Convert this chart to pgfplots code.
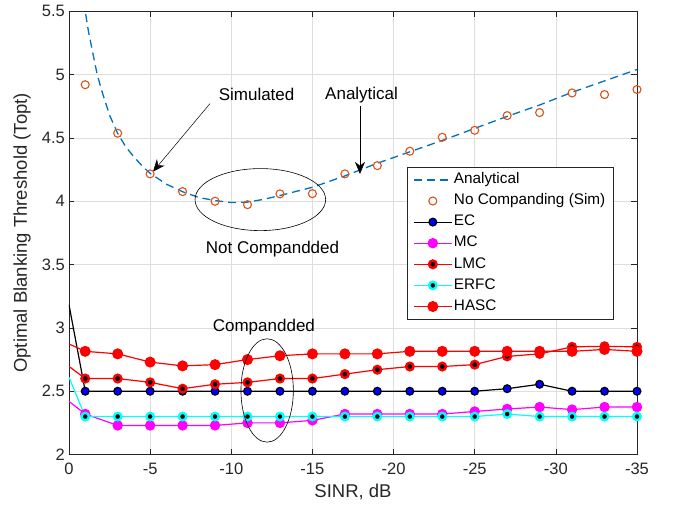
\documentclass[border=0pt]{standalone}
\usepackage{fontspec}
\setmainfont{Liberation Sans}
\usepackage{pgfplots}
\pgfplotsset{compat=1.18}
\usetikzlibrary{arrows.meta}
\definecolor{mblue}{rgb}{0,0.447,0.741}
\definecolor{morange}{rgb}{0.85,0.325,0.098}
\definecolor{axgray}{rgb}{0.15,0.15,0.15}
\definecolor{mcyan}{rgb}{0,1,1}
\definecolor{mmag}{rgb}{1,0,1}
\definecolor{mred}{rgb}{1,0,0}
\definecolor{mblue2}{rgb}{0,0,1}
\begin{document}
\fontsize{16.5}{19}\selectfont
\begin{tikzpicture}
\begin{axis}[
  scale only axis, width=568pt, height=443.3pt,
  x dir=reverse, xmin=-35, xmax=0, ymin=2, ymax=5.5,
  xtick={0,-5,-10,-15,-20,-25,-30,-35},
  ytick={2,2.5,3,3.5,4,4.5,5,5.5},
  /pgf/number format/assume math mode=true,
  grid=major, major grid style={color=black!13, line width=0.5pt},
  axis line style={color=axgray, line width=0.6pt},
  tick style={color=axgray, line width=0.6pt},
  tick align=inside, major tick length=5.5pt,
  xtick pos=both, ytick pos=both,
  xticklabel pos=lower, yticklabel pos=left,
  ticklabel style={color=axgray, font=\fontsize{16.5}{19}\selectfont},
  yticklabel style={xshift=1.5pt},
  xticklabel style={yshift=-3pt},
  xlabel={SINR, dB}, ylabel={Optimal Blanking Threshold (Topt)},
  label style={color=axgray, font=\fontsize{18.5}{21}\selectfont},
  xlabel style={yshift=2pt},
  legend cell align=left,
  legend style={at={(0.958,0.649)}, anchor=north east, draw=axgray, line width=0.6pt,
    fill=white, row sep=3.6pt, inner xsep=6pt, inner ysep=4pt, font=\fontsize{15.3}{18}\selectfont,
    nodes={inner sep=1.5pt, text height=11pt, text depth=3.5pt}},
  legend image code/.code={\draw[mark repeat=2,mark phase=2,#1] plot coordinates {(0pt,0pt) (19pt,0pt) (38pt,0pt)};},
]
\coordinate (O) at (axis cs:0,2);
% Analytical
\addplot[mblue, line width=1.3pt, dash pattern=on 8pt off 5pt] coordinates {
(-0.8,5.68)(-1,5.5)(-1.2,5.34)(-1.5,5.15)(-1.74,5.0)(-2,4.88)(-2.5,4.68)(-3,4.535)
(-3.5,4.43)(-4,4.35)(-4.5,4.28)(-5,4.22)(-6,4.135)(-7,4.075)(-8,4.03)(-9,4.005)
(-10,3.99)(-11,3.993)(-12,4.015)(-13,4.045)(-14,4.078)(-15,4.11)(-17,4.20)(-19,4.30)
(-21,4.39)(-23,4.48)(-25,4.575)(-27,4.67)(-29,4.76)(-31,4.86)(-33,4.95)(-35,5.04)};
\addlegendentry{Analytical}
% No companding simulated
\addplot[only marks, mark=o, morange, mark size=4pt, line width=1.1pt] coordinates {
(-1,4.92)(-3,4.537)(-5,4.216)(-7,4.076)(-9,4.0)(-11,3.973)(-13,4.058)(-15,4.06)
(-17,4.216)(-19,4.281)(-21,4.395)(-23,4.505)(-25,4.56)(-27,4.676)(-29,4.70)
(-31,4.855)(-33,4.842)(-35,4.882)};
\addlegendentry{No Companding (Sim)}
% EC
\addplot[black, line width=1.2pt, forget plot] coordinates {(0,3.183)(-1,2.5)};
\addplot[black, line width=1.2pt, mark=*, mark size=3.9pt, mark options={fill=mblue2, draw=black, line width=1.2pt}] coordinates {
(-1,2.5)(-3,2.5)(-5,2.5)(-7,2.5)(-9,2.5)(-11,2.5)(-13,2.5)(-15,2.5)(-17,2.5)(-19,2.5)
(-21,2.5)(-23,2.5)(-25,2.5)(-27,2.52)(-29,2.555)(-31,2.5)(-33,2.5)(-35,2.5)};
\addlegendentry{EC}
% MC
\addplot[mmag, line width=1.2pt, forget plot] coordinates {(0,2.42)(-1,2.32)};
\addplot[mmag, line width=1.2pt, mark=*, mark size=4.6pt, mark options={fill=mmag, draw=mmag}] coordinates {
(-1,2.32)(-3,2.23)(-5,2.23)(-7,2.23)(-9,2.23)(-11,2.25)(-13,2.25)(-15,2.27)(-17,2.32)
(-19,2.32)(-21,2.32)(-23,2.32)(-25,2.34)(-27,2.36)(-29,2.375)(-31,2.355)(-33,2.375)(-35,2.375)};
\addlegendentry{MC}
% LMC
\addplot[mred, line width=1.2pt, forget plot] coordinates {(0,2.696)(-1,2.60)};
\addplot[mred, line width=1.2pt, mark=*, mark size=3.8pt, mark options={fill=black, draw=mred, line width=2.4pt}] coordinates {
(-1,2.60)(-3,2.60)(-5,2.57)(-7,2.52)(-9,2.555)(-11,2.57)(-13,2.60)(-15,2.60)(-17,2.635)
(-19,2.67)(-21,2.695)(-23,2.695)(-25,2.71)(-27,2.775)(-29,2.795)(-31,2.85)(-33,2.855)(-35,2.85)};
\addlegendentry{LMC}
% ERFC
\addplot[mcyan, line width=1.2pt, forget plot] coordinates {(0,2.61)(-1,2.30)};
\addplot[mcyan, line width=1.2pt, mark=*, mark size=3.7pt, mark options={fill=black, draw=mcyan, line width=2.4pt}] coordinates {
(-1,2.30)(-3,2.30)(-5,2.30)(-7,2.30)(-9,2.30)(-11,2.30)(-13,2.30)(-15,2.30)(-17,2.30)
(-19,2.30)(-21,2.30)(-23,2.30)(-25,2.30)(-27,2.32)(-29,2.30)(-31,2.30)(-33,2.30)(-35,2.30)};
\addlegendentry{ERFC}
% HASC
\addplot[mred, line width=1.2pt, forget plot] coordinates {(0,2.873)(-1,2.815)};
\addplot[mred, line width=1.2pt, mark=*, mark size=4.9pt, mark options={fill=mred, draw=mred}] coordinates {
(-1,2.815)(-3,2.795)(-5,2.73)(-7,2.70)(-9,2.71)(-11,2.75)(-13,2.78)(-15,2.795)(-17,2.795)
(-19,2.795)(-21,2.815)(-23,2.815)(-25,2.815)(-27,2.815)(-29,2.815)(-31,2.815)(-33,2.83)(-35,2.815)};
\addlegendentry{HASC}
% annotations
\node[font=\fontsize{17}{20}\selectfont] at (axis cs:-11.56,4.842) {Simulated};
\node[font=\fontsize{17}{20}\selectfont] at (axis cs:-18.03,4.837) {Analytical};
\node[font=\fontsize{17}{20}\selectfont] at (axis cs:-12.54,3.624) {Not Compandded};
\node[font=\fontsize{17}{20}\selectfont] at (axis cs:-12.01,3.007) {Compandded};
\draw[-{Stealth[length=12pt,width=10pt]}, line width=0.5pt] (axis cs:-8.69,4.771) -- (axis cs:-5.18,4.234);
\draw[-{Stealth[length=12pt,width=10pt]}, line width=0.5pt] (axis cs:-17.93,4.752) -- (axis cs:-17.93,4.216);
\coordinate (E1) at (axis cs:-11.79,4.013);
\coordinate (E2) at (axis cs:-12.21,2.506);
\end{axis}
\draw[line width=0.6pt] (E1) ellipse [x radius=65.3pt, y radius=31pt];
\draw[line width=0.6pt] (E2) ellipse [x radius=26.2pt, y radius=51.7pt];
\path (O) ++(-69pt,-59pt) rectangle ++(673pt,509pt);
\end{tikzpicture}
\end{document}
